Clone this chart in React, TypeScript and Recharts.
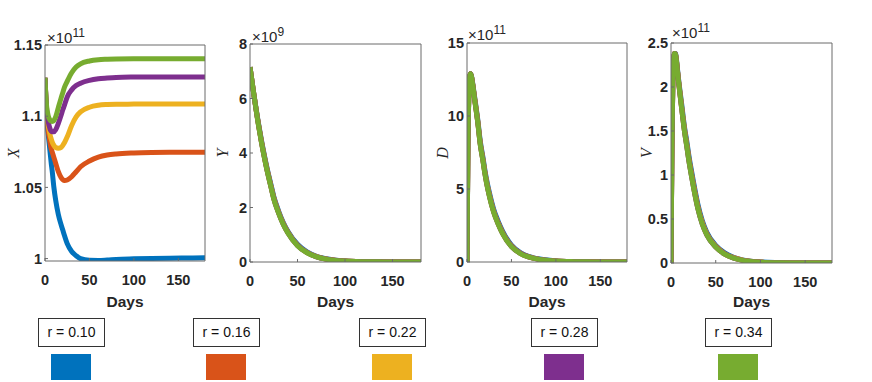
import { LineChart, Line, XAxis, YAxis } from 'recharts'

// sample days (shared by all four panels)
const days = [0, 1, 2, 3, 4, 5, 6, 7, 8, 10, 12, 15, 18, 20, 22, 25, 30, 35, 40, 50, 60, 70, 80, 100, 120, 140, 160, 180]

// X (x10^11)
const xBlue = [1.127, 1.111, 1.099, 1.091, 1.085, 1.079, 1.073, 1.067, 1.062, 1.05, 1.041, 1.031, 1.024, 1.02, 1.016, 1.0105, 1.005, 1.002, 1.0, 0.9988, 0.9987, 0.999, 0.9994, 0.9998, 1.0001, 1.0003, 1.0004, 1.0005]
const xOrange = [1.127, 1.111, 1.1, 1.093, 1.088, 1.084, 1.08, 1.077, 1.075, 1.071, 1.067, 1.061, 1.057, 1.0555, 1.0548, 1.0552, 1.0575, 1.061, 1.0645, 1.0685, 1.0712, 1.0727, 1.0735, 1.0742, 1.0745, 1.0746, 1.0746, 1.0746]
const xYellow = [1.127, 1.112, 1.102, 1.096, 1.092, 1.089, 1.086, 1.084, 1.082, 1.0795, 1.078, 1.0775, 1.078, 1.0795, 1.0815, 1.0855, 1.0935, 1.0995, 1.103, 1.1063, 1.1077, 1.1082, 1.1084, 1.1085, 1.1086, 1.1086, 1.1086, 1.1086]
const xPurple = [1.127, 1.113, 1.104, 1.099, 1.095, 1.0925, 1.0905, 1.0895, 1.089, 1.089, 1.0905, 1.095, 1.1005, 1.1045, 1.108, 1.1135, 1.1185, 1.1215, 1.1232, 1.1252, 1.1263, 1.1268, 1.1272, 1.1275, 1.1276, 1.1276, 1.1276, 1.1276]
const xGreen = [1.127, 1.114, 1.106, 1.102, 1.0995, 1.098, 1.097, 1.0965, 1.0963, 1.097, 1.0995, 1.106, 1.1125, 1.1165, 1.1205, 1.1245, 1.1305, 1.1345, 1.1368, 1.1388, 1.1397, 1.14, 1.1402, 1.1403, 1.1403, 1.1403, 1.1403, 1.1403]

// Y (x10^9)
const yBlue = [7.15, 6.91, 6.67, 6.42, 6.18, 5.95, 5.72, 5.5, 5.28, 4.87, 4.48, 3.94, 3.44, 3.14, 2.85, 2.41, 1.88, 1.45, 1.12, 0.65, 0.37, 0.21, 0.12, 0.038, 0.013, 0.005, 0.002, 0.001]
const yOrange = [7.15, 6.91, 6.66, 6.41, 6.17, 5.94, 5.7, 5.48, 5.25, 4.84, 4.44, 3.9, 3.4, 3.1, 2.8, 2.37, 1.84, 1.42, 1.09, 0.62, 0.355, 0.2, 0.11, 0.035, 0.012, 0.004, 0.001, 0]
const yYellow = [7.15, 6.9, 6.66, 6.41, 6.16, 5.93, 5.69, 5.46, 5.24, 4.82, 4.42, 3.87, 3.37, 3.07, 2.78, 2.34, 1.82, 1.4, 1.07, 0.61, 0.345, 0.195, 0.107, 0.034, 0.011, 0.004, 0.001, 0]
const yPurple = [7.15, 6.9, 6.65, 6.4, 6.15, 5.92, 5.68, 5.45, 5.23, 4.81, 4.41, 3.86, 3.36, 3.06, 2.77, 2.33, 1.81, 1.39, 1.065, 0.605, 0.342, 0.192, 0.106, 0.033, 0.011, 0.004, 0.001, 0]
const yGreen = [7.15, 6.9, 6.65, 6.4, 6.15, 5.92, 5.68, 5.45, 5.22, 4.8, 4.4, 3.85, 3.35, 3.05, 2.76, 2.32, 1.8, 1.38, 1.06, 0.6, 0.34, 0.19, 0.105, 0.033, 0.011, 0.004, 0.001, 0]

// D (x10^11)
const dBlue = [0, 7.9, 11.2, 12.65, 12.9, 12.75, 12.4, 12.0, 11.55, 10.7, 9.8, 8.25, 7.15, 6.35, 5.65, 4.8, 3.62, 2.8, 2.12, 1.16, 0.65, 0.37, 0.22, 0.075, 0.026, 0.01, 0.004, 0.001]
const dOrange = [0, 7.95, 11.25, 12.7, 12.9, 12.72, 12.35, 11.95, 11.48, 10.6, 9.7, 8.12, 7.02, 6.22, 5.52, 4.67, 3.5, 2.7, 2.03, 1.1, 0.61, 0.35, 0.2, 0.07, 0.024, 0.009, 0.003, 0.001]
const dYellow = [0, 7.98, 11.28, 12.7, 12.9, 12.71, 12.32, 11.92, 11.43, 10.55, 9.65, 8.05, 6.95, 6.15, 5.45, 4.6, 3.45, 2.64, 1.98, 1.07, 0.595, 0.34, 0.195, 0.067, 0.023, 0.008, 0.003, 0.001]
const dPurple = [0, 8.0, 11.3, 12.7, 12.9, 12.7, 12.31, 11.91, 11.41, 10.52, 9.62, 8.02, 6.92, 6.12, 5.42, 4.57, 3.42, 2.62, 1.96, 1.06, 0.585, 0.335, 0.192, 0.066, 0.022, 0.008, 0.003, 0.001]
const dGreen = [0, 8.0, 11.3, 12.7, 12.9, 12.7, 12.3, 11.9, 11.4, 10.5, 9.6, 8.0, 6.9, 6.1, 5.4, 4.55, 3.4, 2.6, 1.95, 1.05, 0.58, 0.33, 0.19, 0.065, 0.022, 0.008, 0.003, 0.001]

// V (x10^11)
const vBlue = [0, 1.28, 2.03, 2.31, 2.38, 2.38, 2.32, 2.23, 2.13, 1.96, 1.8, 1.55, 1.36, 1.22, 1.1, 0.93, 0.67, 0.48, 0.35, 0.2, 0.115, 0.065, 0.036, 0.012, 0.004, 0.001, 0, 0]
const vOrange = [0, 1.29, 2.04, 2.32, 2.38, 2.375, 2.31, 2.21, 2.115, 1.94, 1.77, 1.53, 1.33, 1.19, 1.07, 0.9, 0.645, 0.46, 0.335, 0.19, 0.107, 0.06, 0.033, 0.011, 0.0035, 0.001, 0, 0]
const vYellow = [0, 1.3, 2.05, 2.32, 2.38, 2.37, 2.305, 2.205, 2.105, 1.93, 1.76, 1.51, 1.31, 1.17, 1.05, 0.88, 0.63, 0.45, 0.325, 0.185, 0.102, 0.057, 0.031, 0.01, 0.003, 0.001, 0, 0]
const vPurple = [0, 1.3, 2.05, 2.32, 2.38, 2.37, 2.3, 2.2, 2.1, 1.92, 1.75, 1.5, 1.3, 1.16, 1.04, 0.87, 0.62, 0.44, 0.32, 0.18, 0.1, 0.055, 0.03, 0.01, 0.003, 0.001, 0, 0]
const vGreen = [0, 1.3, 2.05, 2.32, 2.38, 2.37, 2.3, 2.2, 2.1, 1.92, 1.75, 1.5, 1.3, 1.16, 1.04, 0.87, 0.62, 0.44, 0.32, 0.18, 0.1, 0.055, 0.03, 0.01, 0.003, 0.001, 0, 0]

const seriesKeys = ['blue', 'orange', 'yellow', 'purple', 'green']
const seriesColors = ['#0072BD', '#D95319', '#EDB120', '#7E2F8E', '#77AC30']
const rLabels = ['r = 0.10', 'r = 0.16', 'r = 0.22', 'r = 0.28', 'r = 0.34']
const dayTicks = [0, 50, 100, 150]

const INK = '#262626'
const FRAME = '#6a6a6a'
const SANS = '"Liberation Sans", Arial, sans-serif'
const CH = 315

function buildRows(cols: number[][]) {
  return days.map((day, i) => {
    const row: Record<string, number> = { day }
    seriesKeys.forEach((k, j) => { row[k] = cols[j][i] })
    return row
  })
}

const panels = [
  { left: 0, width: 215, axL: 45, axR: 10, axT: 45, axB: CH - 261, domain: [0.9983, 1.15], ticks: [1, 1.05, 1.1, 1.15], rows: buildRows([xBlue, xOrange, xYellow, xPurple, xGreen]) },
  { left: 215, width: 215, axL: 35, axR: 9, axT: 44, axB: CH - 262, domain: [0, 8], ticks: [0, 2, 4, 6, 8], rows: buildRows([yBlue, yOrange, yYellow, yPurple, yGreen]) },
  { left: 430, width: 210, axL: 37, axR: 13, axT: 43, axB: CH - 262, domain: [0, 15], ticks: [0, 5, 10, 15], rows: buildRows([dBlue, dOrange, dYellow, dPurple, dGreen]) },
  { left: 640, width: 232, axL: 31, axR: 40, axT: 43, axB: CH - 263, domain: [0, 2.5], ticks: [0, 0.5, 1, 1.5, 2, 2.5], rows: buildRows([vBlue, vOrange, vYellow, vPurple, vGreen]) },
]

// axis titles and exponent notes, in page pixels
const titles = [
  { text: 'X', x: 18.5, y: 153 },
  { text: 'Y', x: 228, y: 153 },
  { text: 'D', x: 448, y: 153 },
  { text: 'V', x: 652, y: 153 },
]
const exps = [
  { x: 47, y: 42.5, p: '11' },
  { x: 252, y: 42, p: '9' },
  { x: 468, y: 39.5, p: '11' },
  { x: 672, y: 37.5, p: '11' },
]
const legendLeft = [38, 193, 359, 531, 705]

function Panel(p: any) {
  const tickStyle = { fill: INK, fontSize: 14.5, fontWeight: 700, fontFamily: SANS }
  return (
    <div style={{ position: 'absolute', left: p.left, top: 0 }}>
      <LineChart width={p.width} height={CH} data={p.rows} margin={{ top: 0, right: 0, bottom: 0, left: 0 }}>
        <XAxis
          xAxisId="b"
          dataKey="day"
          type="number"
          domain={[0, 180]}
          ticks={dayTicks}
          interval={0}
          height={p.axB}
          tickSize={-3}
          tickMargin={17}
          stroke={FRAME}
          tick={tickStyle}
          allowDataOverflow
          label={{ value: 'Days', position: 'insideBottom', offset: 8, fill: INK, fontSize: 15.5, fontWeight: 700, fontFamily: SANS }}
        />
        <XAxis
          xAxisId="t"
          orientation="top"
          dataKey="day"
          type="number"
          domain={[0, 180]}
          ticks={dayTicks}
          interval={0}
          height={p.axT}
          tickSize={-3}
          tick={false}
          stroke={FRAME}
          allowDataOverflow
        />
        <YAxis
          yAxisId="l"
          type="number"
          domain={p.domain}
          ticks={p.ticks}
          interval={0}
          width={p.axL}
          tickSize={-3}
          tickMargin={6}
          stroke={FRAME}
          tick={tickStyle}
          allowDataOverflow
        />
        <YAxis
          yAxisId="r"
          orientation="right"
          type="number"
          domain={p.domain}
          ticks={p.ticks}
          interval={0}
          width={p.axR}
          tickSize={-3}
          tick={false}
          stroke={FRAME}
          allowDataOverflow
        />
        {seriesKeys.map((k, i) => (
          <Line
            key={k}
            xAxisId="b"
            yAxisId="l"
            dataKey={k}
            type="monotone"
            stroke={seriesColors[i]}
            strokeWidth={5}
            dot={false}
            isAnimationActive={false}
          />
        ))}
      </LineChart>
    </div>
  )
}

export default function App() {
  return (
    <div style={{ position: 'absolute', left: 0, top: 0, width: 872, height: 382, background: '#fff', overflow: 'hidden', fontFamily: SANS }}>
      {panels.map((p, i) => <Panel key={i} {...p} />)}
      <svg width={872} height={382} style={{ position: 'absolute', left: 0, top: 0, pointerEvents: 'none' }}>
        {titles.map(t => (
          <text
            key={t.text}
            x={t.x}
            y={t.y}
            transform={`rotate(-90, ${t.x}, ${t.y})`}
            textAnchor="middle"
            fontFamily='"Liberation Serif", "Times New Roman", serif'
            fontStyle="italic"
            fontSize={16}
            fill={INK}
          >
            {t.text}
          </text>
        ))}
        {exps.map((e, i) => (
          <text key={i} x={e.x} y={e.y} fontFamily={SANS} fontSize={15} fill={INK}>
            ×10<tspan dy={-6} fontSize={12}>{e.p}</tspan>
          </text>
        ))}
      </svg>
      {rLabels.map((r, i) => (
        <div key={r}>
          <div style={{
            position: 'absolute', left: legendLeft[i], top: 318, width: 65, height: 27,
            border: '1px solid #333', fontSize: 14, color: '#111', lineHeight: '27px', textAlign: 'center',
          }}>
            {r}
          </div>
          <div style={{
            position: 'absolute', left: legendLeft[i] + 13, top: 354, width: 40, height: 26,
            background: seriesColors[i],
          }} />
        </div>
      ))}
    </div>
  )
}
